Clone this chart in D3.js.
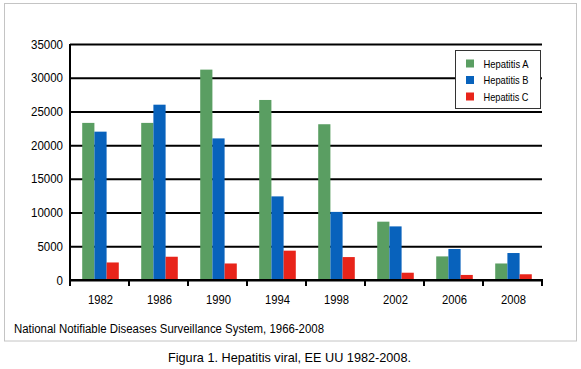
<!DOCTYPE html>
<html>
<head>
<meta charset="utf-8">
<script src="https://cdn.jsdelivr.net/npm/d3@7"></script>
<style>
  body { margin: 0; background: #fff; }
  svg text { font-family: "Liberation Sans", Arial, sans-serif; }
</style>
</head>
<body>
<svg id="chart" width="581" height="369"></svg>
<script>
// DATA
let years = ["1982", "1986", "1990", "1994", "1998", "2002", "2006", "2008"]
let series = ["Hepatitis A", "Hepatitis B", "Hepatitis C"]
let hepA = [23300, 23300, 31200, 26700, 23100, 8650, 3500, 2450]
let hepB = [22000, 26000, 21000, 12400, 10100, 7950, 4600, 4000]
let hepC = [2600, 3450, 2450, 4350, 3400, 1080, 750, 850]
let yTicks = [0, 5000, 10000, 15000, 20000, 25000, 30000, 35000]
let colours = ["#5a9e62", "#0862bc", "#e8241a"]

let rows = years.map((yr, i) => ({label: yr, "Hepatitis A": hepA[i], "Hepatitis B": hepB[i], "Hepatitis C": hepC[i]}))

let margins = {top: 44, left: 70, right: 39, bottom: 89}
let svgWidth = 581 - margins.left - margins.right
let svgHeight = 369 - margins.top - margins.bottom

let svg = d3.select('#chart')

// OUTER FRAME
svg.append('rect')
    .attr('x', 4.5).attr('y', 3.5)
    .attr('width', 572).attr('height', 337.5)
    .attr('fill', 'none')
    .attr('stroke', '#c4c4c4')
    .attr('stroke-width', 1)

let chart = svg.append('g')
    .attr('transform', `translate(${margins.left},${margins.top})`)

let x = d3.scaleBand()
    .domain(years)
    .range([0, svgWidth])
    .paddingInner(0.38)
    .paddingOuter(0.19)
let y = d3.scaleLinear()
    .domain([0, 35000])
    .range([svgHeight, 0])
let xsub = d3.scaleBand()
    .domain(series)
    .range([0, x.bandwidth()])
let colour = d3.scaleOrdinal().domain(series).range(colours)

// GRIDLINES + Y AXIS
let yAxis = chart.append('g')
    .call(d3.axisLeft(y).tickValues(yTicks).tickFormat(d3.format('d')).tickSizeInner(-svgWidth).tickSizeOuter(0).tickPadding(7))
yAxis.select('.domain').remove()
yAxis.selectAll('line')
    .attr('stroke', '#000')
    .attr('stroke-width', 2)
yAxis.selectAll('text')
    .attr('fill', '#000')
    .attr('font-size', 12.5)
    .attr('textLength', d => String(d).length * 6.4)
    .attr('lengthAdjust', 'spacingAndGlyphs')

// Y AXIS LINE
chart.append('line')
    .attr('x1', 0).attr('x2', 0)
    .attr('y1', y(35000)).attr('y2', svgHeight)
    .attr('stroke', '#000')
    .attr('stroke-width', 2)

// BARS
chart.append('g')
    .selectAll('g')
    .data(rows)
    .join('g')
        .attr('transform', d => `translate(${x(d.label) + 1}, 0)`)
    .selectAll('rect')
    .data(d => series.map(key => ({key: key, value: d[key]})))
    .join('rect')
        .attr('x', d => xsub(d.key))
        .attr('y', d => y(d.value))
        .attr('width', xsub.bandwidth())
        .attr('height', d => svgHeight - y(d.value))
        .attr('fill', d => colour(d.key))

// X AXIS
let xAxis = chart.append('g')
    .attr('transform', `translate(0, ${svgHeight})`)
xAxis.append('line')
    .attr('x1', 0).attr('x2', svgWidth)
    .attr('stroke', '#000').attr('stroke-width', 2)
xAxis.selectAll('.tk')
    .data(d3.range(years.length + 1))
    .join('line')
        .attr('class', 'tk')
        .attr('x1', i => i * x.step()).attr('x2', i => i * x.step())
        .attr('y1', -1).attr('y2', 6)
        .attr('stroke', '#000').attr('stroke-width', 2)
xAxis.selectAll('text')
    .data(years)
    .join('text')
        .attr('x', d => x(d) + x.bandwidth() / 2 + 1)
        .attr('y', 24)
        .attr('text-anchor', 'middle')
        .attr('font-size', 12.5)
        .attr('textLength', 25)
        .attr('lengthAdjust', 'spacingAndGlyphs')
        .attr('fill', '#000')
        .text(d => d)

// LEGEND
let legend = svg.append('g').attr('transform', 'translate(455.5, 50.5)')
legend.append('rect')
    .attr('width', 85).attr('height', 58)
    .attr('fill', '#fff')
    .attr('stroke', '#333')
    .attr('stroke-width', 1)
series.forEach(function(s, i) {
    legend.append('rect')
        .attr('x', 10.5).attr('y', 9 + i * 16.5)
        .attr('width', 8).attr('height', 8)
        .attr('fill', colour(s))
    legend.append('text')
        .attr('x', 28).attr('y', 17 + i * 16.5)
        .attr('font-size', 10.5)
        .attr('textLength', 45)
        .attr('lengthAdjust', 'spacingAndGlyphs')
        .attr('fill', '#000')
        .text(s)
})

// SOURCE
svg.append('text')
    .attr('x', 14).attr('y', 333)
    .attr('font-size', 12)
    .attr('textLength', 310)
    .attr('lengthAdjust', 'spacingAndGlyphs')
    .attr('fill', '#000')
    .text('National Notifiable Diseases Surveillance System, 1966-2008')

// CAPTION
svg.append('text')
    .attr('x', 168).attr('y', 362)
    .attr('font-size', 13)
    .attr('textLength', 243)
    .attr('lengthAdjust', 'spacingAndGlyphs')
    .attr('fill', '#000')
    .text('Figura 1. Hepatitis viral, EE UU 1982-2008.')
</script>
</body>
</html>
